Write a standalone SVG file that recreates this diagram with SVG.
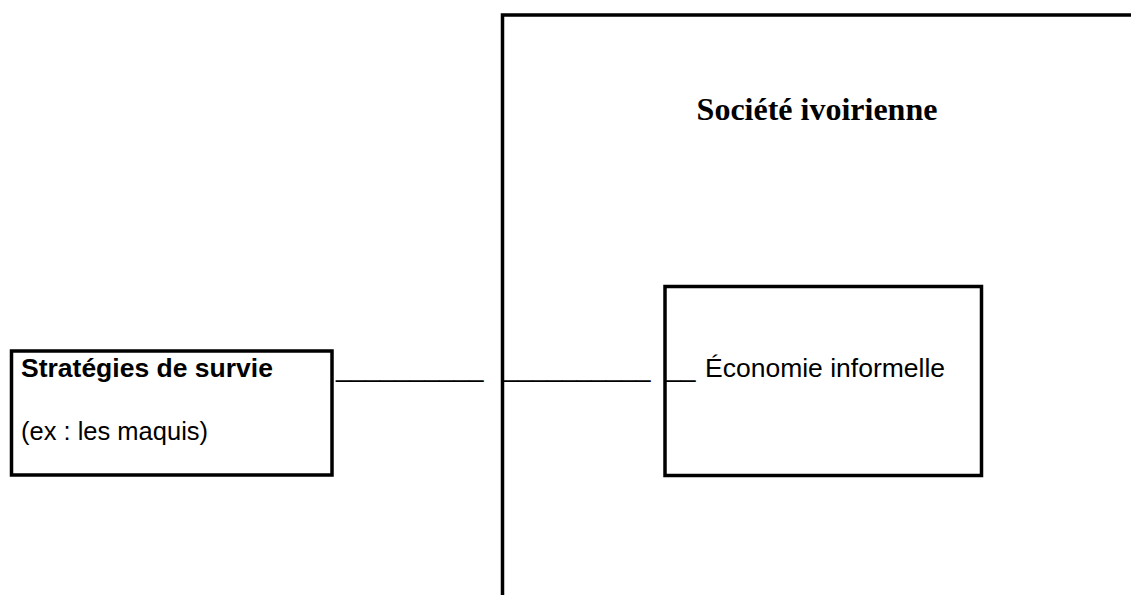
<svg xmlns="http://www.w3.org/2000/svg" width="1131" height="595" viewBox="0 0 1131 595">
<style>
.box{fill:none;stroke:#000;stroke-width:3.5}
.sans{font-family:"Liberation Sans",Arial,sans-serif;font-size:26.5px;fill:#000}
.serif{font-family:"Liberation Serif","Times New Roman",serif;font-size:32px;font-weight:bold;fill:#000}
</style>
<rect width="1131" height="595" fill="#fff"/>
<g id="societe">
<path class="box" d="M1140,15 H502.5 V600"/>
<text class="serif" x="817" y="120" text-anchor="middle">Société ivoirienne</text>
</g>
<g id="strategies">
<rect class="box" x="11.5" y="351" width="320.5" height="124"/>
<text class="sans" x="21" y="377" font-weight="bold">Stratégies de survie</text>
<text class="sans" x="21" y="440" style="font-size:25.5px">(ex : les maquis)</text>
</g>
<g id="economie">
<rect class="box" x="665" y="286.5" width="316.5" height="189"/>
<text class="sans" x="705" y="377">Économie informelle</text>
</g>
<g id="connectors">
<text class="sans" x="336" y="377">__________</text>
<text class="sans" x="503" y="377">__________</text>
<text class="sans" x="666" y="377">__</text>
</g>
</svg>
